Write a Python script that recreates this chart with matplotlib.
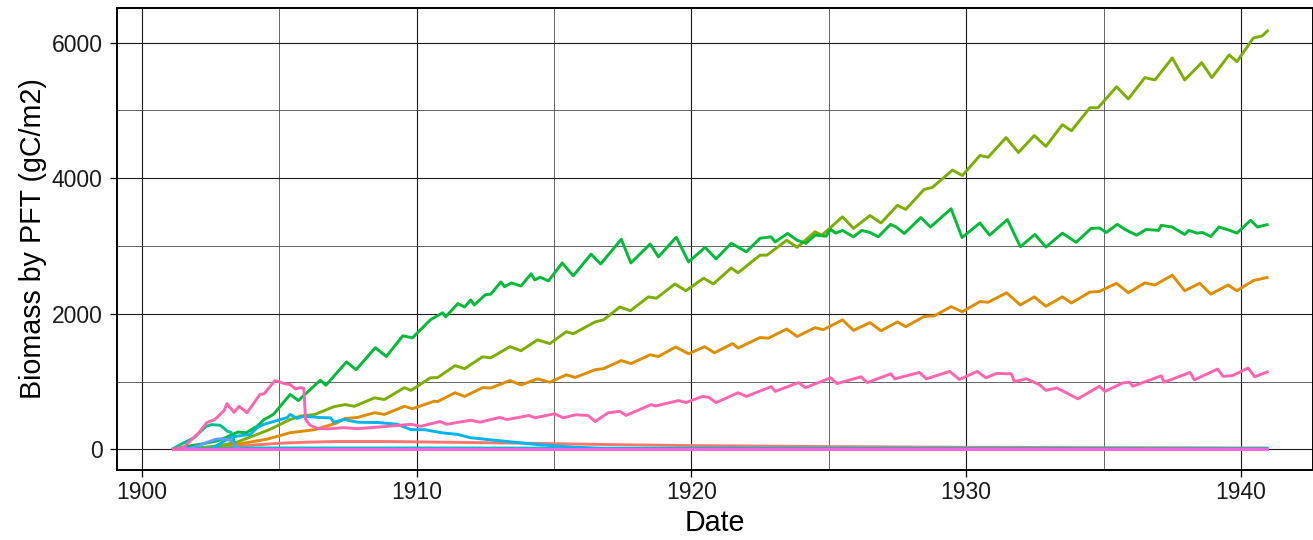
import matplotlib
matplotlib.use("Agg")
import matplotlib.pyplot as plt
from matplotlib.ticker import MultipleLocator

plt.rcParams['font.family'] = ['Liberation Sans', 'DejaVu Sans']


# biomass by PFT (decimal year, gC/m2)
green_yr = [1901.1, 1901.6, 1902.2, 1902.8, 1903.2, 1903.5, 1903.8, 1904.2, 1904.45, 1904.6, 1904.8,
            1905.4, 1905.7, 1906.5, 1906.7, 1907.45, 1907.8, 1908.5, 1908.9, 1909.5, 1909.85,
            1910.5, 1910.95, 1911.06, 1911.5, 1911.75, 1911.97, 1912.1, 1912.5, 1912.7, 1913.07,
            1913.2, 1913.45, 1913.8, 1914.17, 1914.3, 1914.5, 1914.8, 1915.3, 1915.7, 1916.35,
            1916.7, 1917.45, 1917.8, 1918.5, 1918.8, 1919.45, 1919.9, 1920.5, 1920.9, 1921.45,
            1922.0, 1922.5, 1922.9, 1923.05, 1923.5, 1923.85, 1924.17, 1924.5, 1924.9, 1925.07,
            1925.25, 1925.5, 1925.9, 1926.2, 1926.5, 1926.8, 1927.25, 1927.45, 1927.75, 1928.35,
            1928.7, 1929.45, 1929.85, 1930.5, 1930.85, 1931.5, 1931.97, 1932.5, 1932.9, 1933.5,
            1934.0, 1934.55, 1934.85, 1935.1, 1935.5, 1935.8, 1936.2, 1936.55, 1937.0, 1937.1,
            1937.5, 1937.95, 1938.1, 1938.4, 1938.6, 1938.9, 1939.2, 1939.6, 1939.85, 1940.35,
            1940.6, 1941.0]
green_val = [0, 40, 80, 130, 200, 255, 245, 340, 440, 470, 520,
             810, 720, 1020, 945, 1290, 1175, 1500, 1370, 1675, 1645,
             1910, 2015, 1955, 2150, 2100, 2205, 2130, 2280, 2290, 2470,
             2400, 2455, 2410, 2590, 2500, 2540, 2485, 2750, 2560, 2880,
             2735, 3100, 2750, 3030, 2840, 3130, 2765, 2980, 2810, 3040,
             2915, 3115, 3135, 3060, 3185, 3085, 3040, 3160, 3145, 3245,
             3190, 3230, 3135, 3230, 3200, 3135, 3320, 3280, 3185, 3420,
             3280, 3550, 3125, 3340, 3160, 3390, 2990, 3170, 2985, 3190,
             3055, 3260, 3265, 3200, 3320, 3240, 3160, 3245, 3230, 3305,
             3280, 3170, 3230, 3190, 3200, 3140, 3280, 3230, 3190, 3380,
             3280, 3320]

olive_yr = [1901.1, 1902.0, 1902.8, 1903.47, 1904.2, 1904.67, 1905.4, 1905.77, 1906.3, 1907.0,
            1907.4, 1907.74, 1908.47, 1908.83, 1909.56, 1909.8, 1910.5, 1910.77, 1911.4, 1911.75,
            1912.4, 1912.7, 1913.4, 1913.8, 1914.4, 1914.85, 1915.45, 1915.7, 1916.5, 1916.8,
            1917.4, 1917.78, 1918.44, 1918.73, 1919.4, 1919.8, 1920.45, 1920.8, 1921.45, 1921.7,
            1922.5, 1922.75, 1923.47, 1923.85, 1924.5, 1924.75, 1925.5, 1925.9, 1926.5, 1926.9,
            1927.5, 1927.8, 1928.47, 1928.77, 1929.5, 1929.86, 1930.5, 1930.8, 1931.45, 1931.9,
            1932.48, 1932.9, 1933.5, 1933.83, 1934.5, 1934.8, 1935.47, 1935.9, 1936.5, 1936.87,
            1937.5, 1937.95, 1938.57, 1938.94, 1939.57, 1939.85, 1940.45, 1940.77, 1941.0]
olive_val = [0, 20, 50, 107, 220, 295, 440, 490, 515, 630,
             660, 635, 760, 735, 910, 870, 1055, 1060, 1235, 1190,
             1365, 1350, 1515, 1455, 1615, 1560, 1735, 1705, 1880, 1910,
             2100, 2045, 2250, 2230, 2440, 2340, 2525, 2440, 2675, 2605,
             2865, 2865, 3085, 2980, 3210, 3160, 3430, 3260, 3450, 3340,
             3600, 3540, 3835, 3865, 4120, 4040, 4335, 4310, 4600, 4380,
             4630, 4470, 4790, 4700, 5040, 5040, 5350, 5170, 5485, 5450,
             5775, 5450, 5705, 5485, 5820, 5720, 6070, 6100, 6190]

orange_yr = [1901.1, 1902.0, 1902.8, 1903.47, 1904.56, 1905.4, 1906.3, 1907.1, 1907.4, 1907.85,
             1908.47, 1908.83, 1909.56, 1909.85, 1910.65, 1910.77, 1911.4, 1911.75, 1912.4, 1912.7,
             1913.4, 1913.8, 1914.4, 1914.85, 1915.45, 1915.77, 1916.5, 1916.8, 1917.45, 1917.8,
             1918.5, 1918.8, 1919.43, 1919.9, 1920.48, 1920.84, 1921.5, 1921.7, 1922.5, 1922.8,
             1923.47, 1923.85, 1924.5, 1924.8, 1925.5, 1925.9, 1926.5, 1926.9, 1927.5, 1927.8,
             1928.47, 1928.84, 1929.45, 1929.86, 1930.5, 1930.8, 1931.47, 1931.97, 1932.48, 1932.9,
             1933.5, 1933.83, 1934.5, 1934.85, 1935.47, 1935.9, 1936.5, 1936.87, 1937.5, 1937.95,
             1938.5, 1938.9, 1939.53, 1939.85, 1940.45, 1941.0]
orange_val = [0, 15, 40, 73, 150, 245, 290, 390, 455, 470,
              540, 515, 635, 600, 710, 705, 835, 780, 910, 905,
              1015, 950, 1040, 990, 1100, 1060, 1175, 1190, 1310, 1265,
              1395, 1370, 1510, 1410, 1515, 1425, 1560, 1495, 1650, 1640,
              1775, 1665, 1795, 1765, 1910, 1755, 1870, 1750, 1880, 1810,
              1960, 1970, 2105, 2030, 2180, 2170, 2310, 2130, 2250, 2110,
              2250, 2160, 2320, 2330, 2450, 2310, 2455, 2425, 2570, 2340,
              2450, 2290, 2425, 2340, 2490, 2540]

pink_yr = [1901.1, 1901.53, 1901.75, 1902.08, 1902.37, 1902.66, 1903.0, 1903.1, 1903.36, 1903.54,
           1903.83, 1904.3, 1904.45, 1904.85, 1905.2, 1905.4, 1905.6, 1905.77, 1905.9, 1905.96,
           1906.13, 1906.4, 1906.87, 1907.37, 1907.85, 1908.83, 1909.8, 1910.15, 1910.85, 1911.1,
           1911.97, 1912.3, 1913.02, 1913.3, 1914.1, 1914.3, 1915.03, 1915.33, 1915.8, 1916.24,
           1916.5, 1916.97, 1917.4, 1917.62, 1918.54, 1918.7, 1919.53, 1919.8, 1920.4, 1920.62,
           1920.9, 1921.7, 1922.0, 1922.9, 1923.05, 1923.9, 1924.15, 1925.07, 1925.3, 1926.17,
           1926.4, 1927.26, 1927.4, 1928.3, 1928.55, 1929.4, 1929.75, 1930.4, 1930.72, 1931.1,
           1931.64, 1931.75, 1932.2, 1932.66, 1932.9, 1933.3, 1933.76, 1934.06, 1934.85, 1935.05,
           1935.7, 1935.95, 1936.06, 1936.7, 1937.1, 1937.2, 1938.15, 1938.3, 1939.15, 1939.35,
           1939.7, 1940.26, 1940.5, 1941.0]
pink_val = [0, 30, 120, 245, 395, 440, 575, 675, 545, 635,
            540, 810, 820, 1015, 970, 955, 890, 910, 900, 440,
            355, 305, 305, 320, 305, 335, 370, 340, 410, 370,
            430, 400, 470, 440, 500, 465, 525, 465, 510, 500,
            410, 540, 560, 500, 660, 640, 720, 690, 780, 770,
            690, 835, 780, 925, 855, 985, 910, 1055, 970, 1070,
            985, 1115, 1040, 1135, 1040, 1150, 1030, 1150, 1055, 1120,
            1115, 1000, 1040, 955, 870, 905, 810, 745, 930, 855,
            980, 990, 930, 1025, 1085, 990, 1135, 1025, 1185, 1075,
            1090, 1200, 1070, 1150]

blue_yr = [1901.1, 1902.5, 1903.0, 1903.3, 1903.95, 1904.2, 1904.45, 1904.8, 1905.3, 1905.4,
           1905.66, 1905.9, 1906.4, 1906.87, 1907.0, 1907.37, 1907.85, 1908.6, 1909.3, 1909.8,
           1910.3, 1910.9, 1911.5, 1911.97, 1913.2, 1914.4, 1915.6, 1916.86, 1918.0, 1941.0]
blue_val = [0, 5, 120, 185, 220, 320, 370, 410, 470, 515,
            455, 490, 470, 465, 400, 440, 400, 395, 370, 290,
            290, 245, 220, 170, 120, 70, 35, 10, 3, 0]

salmon_yr = [1901.1, 1902.0, 1903.0, 1904.0, 1905.0, 1906.0, 1907.0, 1909.0, 1911.0, 1914.0,
             1917.0, 1920.0, 1925.0, 1930.0, 1935.0, 1941.0]
salmon_val = [0, 10, 30, 60, 90, 105, 115, 115, 105, 90, 70, 55, 40, 30, 25, 20]

teal_yr = [1901.1, 1901.4, 1901.9, 1902.35, 1902.55, 1902.85, 1903.0, 1903.1, 1903.25, 1903.32,
           1903.42, 1903.6, 1941.0]
teal_val = [0, 70, 170, 340, 365, 355, 310, 270, 250, 180, 20, 0, 0]

cyan_yr = [1901.1, 1902.5, 1904.0, 1910.0, 1920.0, 1930.0, 1941.0]
cyan_val = [0, 10, 20, 20, 15, 12, 10]

lightblue_yr = [1901.1, 1901.8, 1902.3, 1902.7, 1903.0, 1903.25, 1903.45, 1903.6, 1941.0]
lightblue_val = [0, 20, 90, 150, 155, 130, 40, 0, 0]

zero_yr = [1901.1, 1941.0]
zero_val = [0, 0]


# ggplot hue palette, 12 groups, drawn in group order
series = [
    ('#F8766D', salmon_yr, salmon_val),
    ('#DE8C00', orange_yr, orange_val),
    ('#B79F00', zero_yr, zero_val),
    ('#7CAE00', olive_yr, olive_val),
    ('#00BA38', green_yr, green_val),
    ('#00C08B', teal_yr, teal_val),
    ('#00BFC4', cyan_yr, cyan_val),
    ('#00B4F0', blue_yr, blue_val),
    ('#619CFF', lightblue_yr, lightblue_val),
    ('#C77CFF', zero_yr, zero_val),
    ('#F564E3', zero_yr, zero_val),
    ('#FF64B0', pink_yr, pink_val),
]


fig = plt.figure(figsize=(13.13, 5.4), dpi=100)
ax = fig.add_axes([117 / 1313, 70 / 540, 1196 / 1313, 462 / 540])

for color, yrs, vals in series:
    ax.plot(yrs, vals, color=color, linewidth=2.1, solid_joinstyle='round',
            solid_capstyle='butt', zorder=3)

ax.set_xlim(1899.10, 1942.62)
ax.set_ylim(-305, 6512)

ax.xaxis.set_major_locator(MultipleLocator(10))
ax.xaxis.set_minor_locator(MultipleLocator(5))
ax.yaxis.set_major_locator(MultipleLocator(2000))
ax.yaxis.set_minor_locator(MultipleLocator(1000))
ax.xaxis.set_major_formatter(lambda v, pos: f"{int(round(v))}")

ax.grid(True, which='major', color='#1a1a1a', linewidth=0.8, zorder=0)
ax.grid(True, which='minor', color='#3a3a3a', linewidth=0.55, zorder=0)
ax.set_axisbelow(True)

for side in ax.spines.values():
    side.set_color('black')
    side.set_linewidth(1.4)

ax.tick_params(which='major', length=4.8, width=0.9, color='black', labelsize=16.5,
               labelcolor='#1a1a1a')
ax.tick_params(axis='x', which='major', pad=3)
ax.tick_params(axis='y', which='major', pad=5.5)
ax.tick_params(which='minor', length=0)

ax.set_xlabel('Date', fontsize=20.6)
ax.set_ylabel('Biomass by PFT (gC/m2)', fontsize=20.6)
ax.xaxis.set_label_coords(0.5, -0.085)
ax.yaxis.set_label_coords(-0.0585, 0.5)

fig.savefig('out.png', dpi=100)
